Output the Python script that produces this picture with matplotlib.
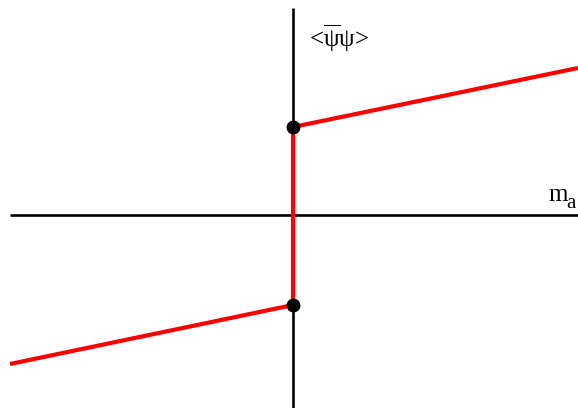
import matplotlib
matplotlib.use("Agg")
import matplotlib.pyplot as plt

plt.rcParams['mathtext.fontset'] = 'custom'
plt.rcParams['mathtext.rm'] = 'Liberation Serif'
plt.rcParams['mathtext.it'] = 'Liberation Serif:italic'
plt.rcParams['font.family'] = ['Liberation Serif', 'DejaVu Serif']

# data (math units: origin at axes crossing)
upper_x = [0.0, 2.85]
upper_y = [0.88, 1.47]
lower_x = [-2.83, 0.0]
lower_y = [-1.49, -0.90]
jump_x = [0.0, 0.0]
jump_y = [-0.90, 0.88]
dots_x = [0.0, 0.0]
dots_y = [0.88, -0.90]

fig = plt.figure(figsize=(5.78, 4.08), dpi=100)
ax = fig.add_axes([0, 0, 1, 1])
ax.set_xlim(-2.93, 2.85)
ax.set_ylim(-1.93, 2.15)
ax.axis('off')

# axes lines
ax.plot([-2.83, 2.85], [0, 0], color='black', lw=1.9, solid_capstyle='butt')
ax.plot([0, 0], [-1.93, 2.07], color='black', lw=1.9, solid_capstyle='butt')

red = '#ff0000'
ax.plot(upper_x, upper_y, color=red, lw=3.0, solid_capstyle='butt')
ax.plot(lower_x, lower_y, color=red, lw=3.0, solid_capstyle='butt')
ax.plot(jump_x, jump_y, color=red, lw=3.0, solid_capstyle='butt')
ax.plot(dots_x, dots_y, 'o', color='black', ms=9, zorder=5)

ax.text(0.16, 1.77, r'<$\overline{\mathrm{\psi}}\mathrm{\psi}$>', fontsize=18,
        ha='left', va='center')
ax.text(2.55, 0.14, 'm', fontsize=18, ha='left', va='baseline')
ax.text(2.73, 0.07, 'a', fontsize=15, ha='left', va='baseline', clip_on=False)

fig.savefig('out.png', dpi=100)
